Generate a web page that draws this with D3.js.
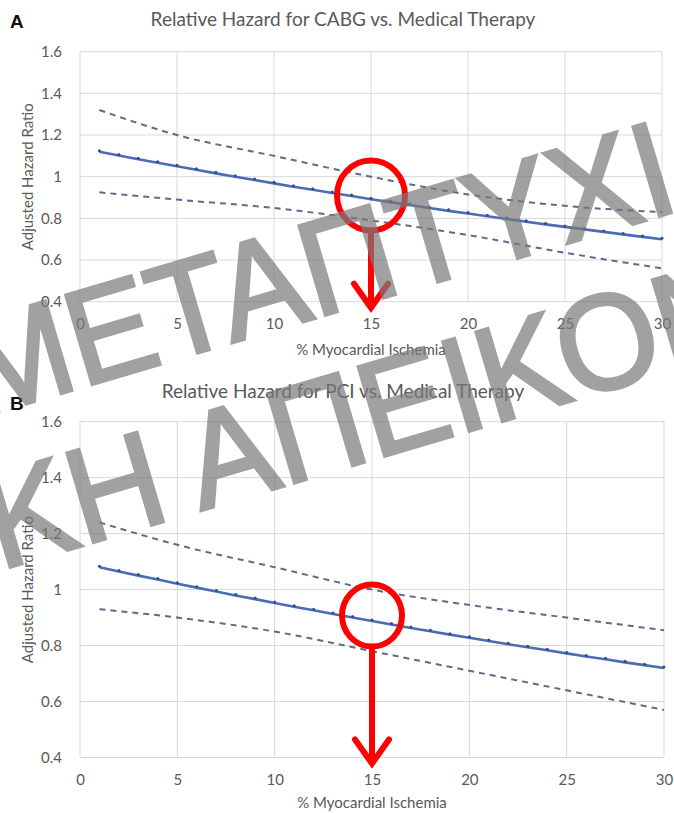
<!DOCTYPE html>
<html>
<head>
<meta charset="utf-8">
<script src="https://cdn.jsdelivr.net/npm/d3@7"></script>
<style>
  body { margin: 0; background: #fff; }
  svg { display: block; font-family: Lato, "Open Sans", sans-serif; }
  .grid line { stroke: #d9d9d9; stroke-width: 1; }
  .tick-lbl { fill: #595959; font-size: 15px; }
</style>
</head>
<body>
<div id="chart"></div>
<script>
// % myocardial ischemia for the fitted line (one marker per integer)
var ischemia = [1,2,3,4,5,6,7,8,9,10,11,12,13,14,15,16,17,18,19,20,21,22,23,24,25,26,27,28,29,30];
// x positions where the confidence bands were read
var ciX = [1,5,10,15,20,25,30];

// Panel A: CABG vs medical therapy
var cabgHR = [1.120,1.102,1.084,1.067,1.050,1.033,1.016,1.000,0.984,0.968,0.952,0.937,0.922,0.907,0.892,
              0.878,0.864,0.850,0.836,0.823,0.810,0.797,0.784,0.771,0.759,0.747,0.735,0.723,0.711,0.700];
var cabgUpper = [1.32,1.20,1.10,1.00,0.915,0.86,0.83];
var cabgLower = [0.925,0.89,0.85,0.79,0.72,0.635,0.56];

// Panel B: PCI vs medical therapy
var pciHR = [1.080,1.065,1.050,1.036,1.021,1.007,0.993,0.979,0.966,0.952,0.939,0.926,0.913,0.900,0.888,
             0.875,0.863,0.851,0.839,0.828,0.816,0.805,0.794,0.783,0.772,0.761,0.751,0.740,0.730,0.720];
var pciUpper = [1.24,1.16,1.08,1.00,0.945,0.90,0.855];
var pciLower = [0.93,0.90,0.85,0.78,0.71,0.64,0.57];

var xTicks = [0,5,10,15,20,25,30];
var yTicks = [0.4,0.6,0.8,1,1.2,1.4,1.6];

var watermark = ["ΜΕΤΑΠΤΥΧΙΑ", "ΚΗ ΑΠΕΙΚΟΝΙΣΗ"];

var W = 674, H = 813;
var svg = d3.select("#chart").append("svg")
    .attr("width", W)
    .attr("height", H);

function drawPanel(p) {
    var x = d3.scaleLinear().domain([0, 30]).range([p.left, p.right]);
    var y = d3.scaleLinear().domain([0.4, 1.6]).range([p.bottom, p.top]);
    var g = svg.append("g");

    // panel letter + title
    g.append("text")
        .attr("x", 10).attr("y", p.letterY)
        .style("font-family", "Liberation Sans, Arial, sans-serif")
        .style("font-weight", "bold").style("font-size", "19px")
        .attr("fill", "#111")
        .text(p.letter);
    g.append("text")
        .attr("x", 343).attr("y", p.titleY)
        .attr("text-anchor", "middle")
        .attr("fill", "#595959")
        .style("font-size", "19px")
        .text(p.title);

    // gridlines
    g.append("g").attr("class", "grid")
        .selectAll("line").data(yTicks).enter().append("line")
        .attr("x1", p.left).attr("x2", p.right)
        .attr("y1", function(d) { return y(d); })
        .attr("y2", function(d) { return y(d); });
    g.append("g").attr("class", "grid")
        .selectAll("line").data(xTicks).enter().append("line")
        .attr("y1", p.top).attr("y2", p.bottom)
        .attr("x1", function(d) { return x(d); })
        .attr("x2", function(d) { return x(d); });

    // axes (labels only, Excel style)
    var yAxis = g.append("g")
        .attr("transform", "translate(" + p.left + ",0)")
        .call(d3.axisLeft(y).tickValues(yTicks).tickSize(0).tickPadding(18)
              .tickFormat(function(d) { return String(+d.toFixed(1)); }));
    yAxis.select(".domain").remove();

    var xAxis = g.append("g")
        .attr("transform", "translate(0," + p.bottom + ")")
        .call(d3.axisBottom(x).tickValues(xTicks).tickSize(0).tickPadding(p.xPad));
    xAxis.select(".domain").remove();

    g.selectAll(".tick text")
        .attr("class", "tick-lbl")
        .attr("fill", null);
    yAxis.attr("font-family", null).attr("font-size", null);
    xAxis.attr("font-family", null).attr("font-size", null);

    // axis titles
    g.append("text")
        .attr("transform", "translate(33," + ((p.top + p.bottom) / 2) + ") rotate(-90)")
        .attr("text-anchor", "middle").attr("fill", "#595959")
        .style("font-size", "15px")
        .text("Adjusted  Hazard  Ratio");
    g.append("text")
        .attr("x", x(15)).attr("y", p.xLabY)
        .attr("text-anchor", "middle").attr("fill", "#595959")
        .style("font-size", "15px")
        .text("% Myocardial Ischemia");

    // confidence bands
    var band = d3.line()
        .x(function(d) { return x(d[0]); })
        .y(function(d) { return y(d[1]); })
        .curve(d3.curveMonotoneX);
    [p.upper, p.lower].forEach(function(vals) {
        g.append("path")
            .datum(d3.zip(ciX, vals))
            .attr("fill", "none")
            .attr("stroke", "#5d6b8a")
            .attr("stroke-width", 2)
            .attr("stroke-dasharray", "6,5")
            .attr("d", band);
    });

    // fitted hazard ratio
    var pts = d3.zip(ischemia, p.hr);
    g.append("path")
        .datum(pts)
        .attr("fill", "none")
        .attr("stroke", "#4a6cb3")
        .attr("stroke-width", 2.6)
        .attr("d", d3.line()
            .x(function(d) { return x(d[0]); })
            .y(function(d) { return y(d[1]); }));
    g.selectAll(".mk").data(pts).enter().append("circle")
        .attr("cx", function(d) { return x(d[0]); })
        .attr("cy", function(d) { return y(d[1]) - 1; })
        .attr("r", 1.5)
        .attr("fill", "#2f4d8f");

    // red annotation: circle at 15% and arrow to the axis
    var cx = x(15), cy = y(0.9);
    g.append("ellipse")
        .attr("cx", cx).attr("cy", cy - 2)
        .attr("rx", p.rx).attr("ry", p.ry)
        .attr("fill", "none").attr("stroke", "#ff0000").attr("stroke-width", 6);
    var tip = y(0.4) + 6;
    g.append("line")
        .attr("x1", cx).attr("x2", cx)
        .attr("y1", cy - 2 + p.ry).attr("y2", tip - 3)
        .attr("stroke", "#ff0000").attr("stroke-width", 6);
    g.append("path")
        .attr("d", "M" + (cx - 17) + "," + (tip - 24) + "L" + cx + "," + tip + "L" + (cx + 17) + "," + (tip - 24))
        .attr("fill", "none").attr("stroke", "#ff0000").attr("stroke-width", 6)
        .attr("stroke-linecap", "round").attr("stroke-linejoin", "miter");
}

drawPanel({
    letter: "A", letterY: 28, title: "Relative Hazard for CABG vs. Medical Therapy", titleY: 26,
    left: 80, right: 662, top: 51.7, bottom: 301.7, xPad: 17, xLabY: 355,
    hr: cabgHR, upper: cabgUpper, lower: cabgLower, rx: 34, ry: 35
});
drawPanel({
    letter: "B", letterY: 410, title: "Relative Hazard for PCI vs. Medical Therapy", titleY: 398,
    left: 80, right: 664, top: 421.7, bottom: 757.5, xPad: 17, xLabY: 808,
    hr: pciHR, upper: pciUpper, lower: pciLower, rx: 30, ry: 31
});

// watermark over the figure
var wm = svg.append("g")
    .attr("fill", "#7a7a7a")
    .attr("stroke", "#7a7a7a")
    .attr("stroke-width", 3.5)
    .attr("opacity", 0.7)
    .style("font-family", "Liberation Sans, Arial, sans-serif")
    .style("font-size", "135px");
wm.append("text")
    .attr("transform", "translate(-22,418) rotate(-16.5) scale(0.964,1)")
    .text(watermark[0]);
wm.append("text")
    .attr("transform", "translate(0,570) rotate(-16.5) scale(0.964,1)")
    .text(watermark[1]);
</script>
</body>
</html>
